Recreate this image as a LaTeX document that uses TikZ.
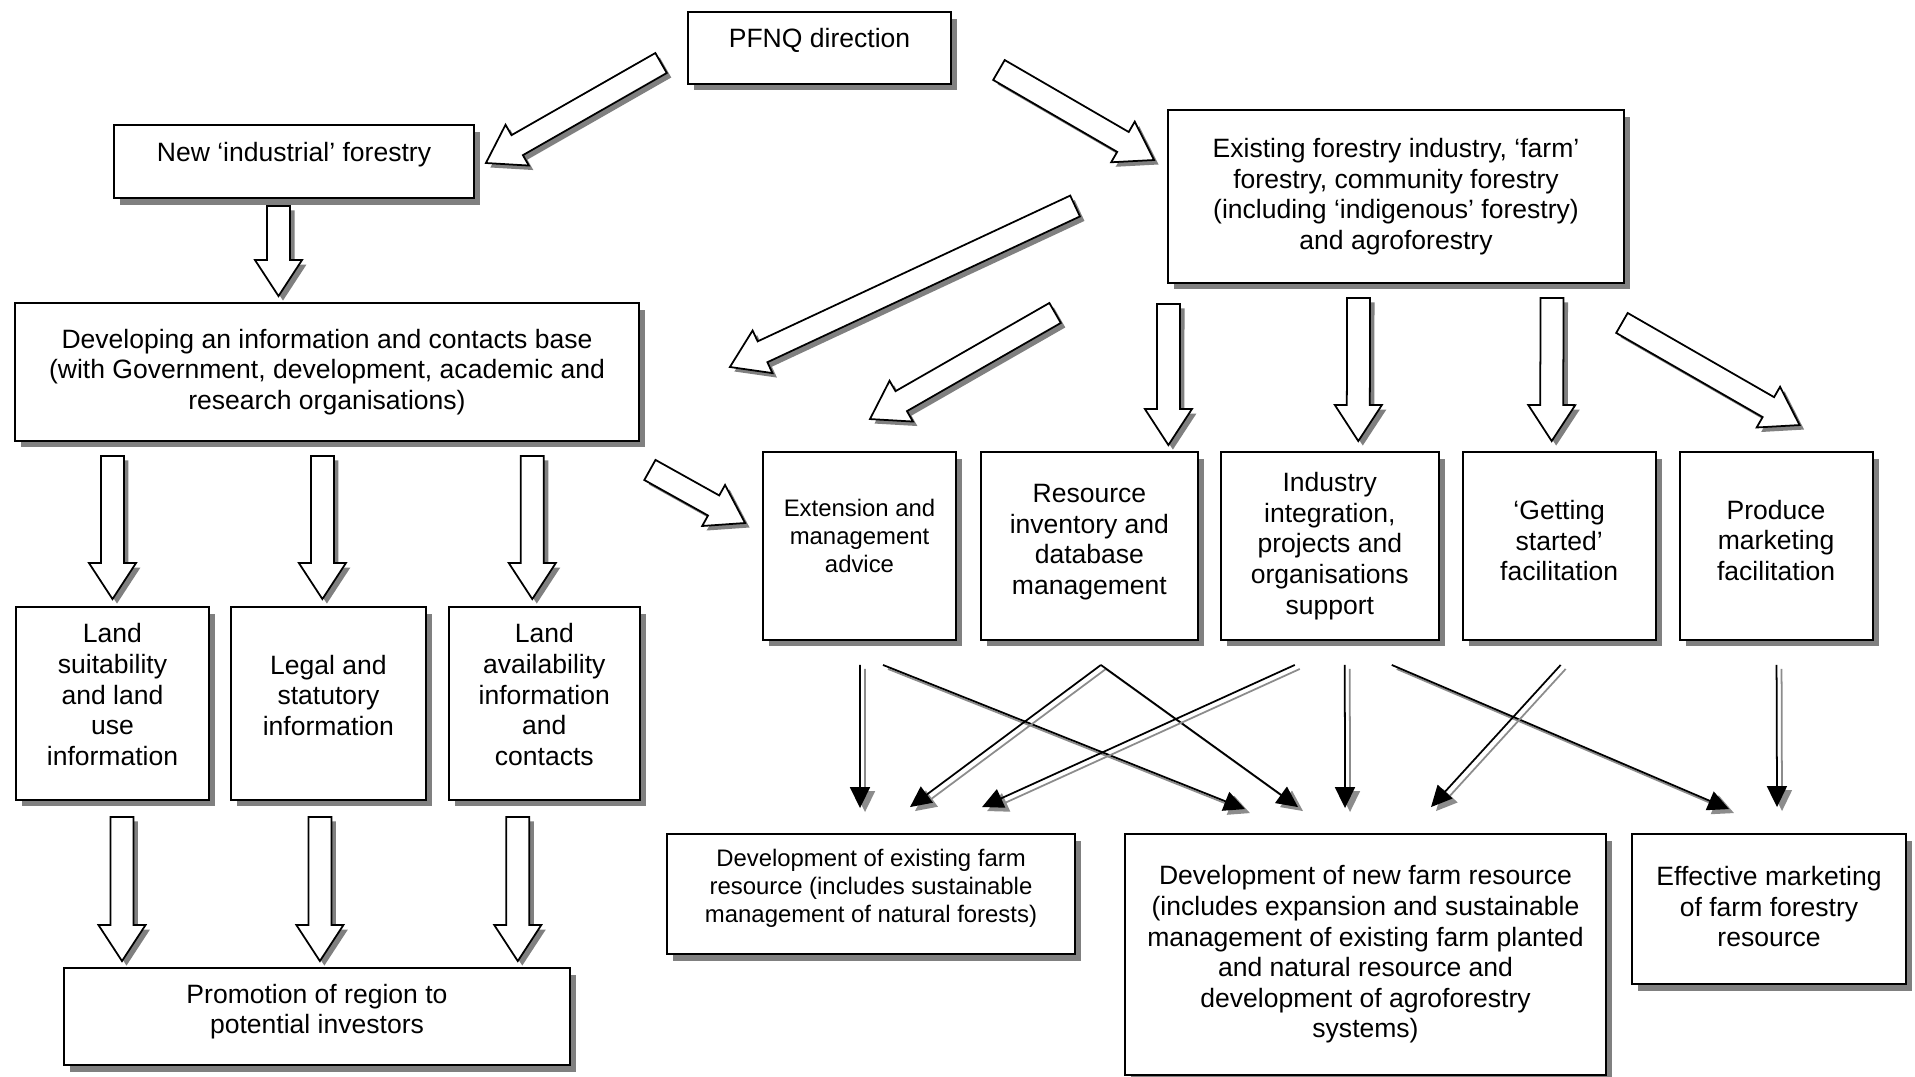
\documentclass[tikz,border=0pt]{standalone}
\usepackage{fontspec}
\setmainfont{Liberation Sans}
\usetikzlibrary{positioning, calc, arrows.meta, shadows}

% hollow block arrow from tail #1 to tip #2
\newcommand{\fatarrow}[2]{%
  \coordinate (fa-t) at #1;
  \coordinate (fa-h) at #2;
  \coordinate (fa-b) at ($(fa-h)!0.72cm!(fa-t)$);
  \draw[fat] ($(fa-t)!0.23cm!90:(fa-h)$) -- ($(fa-b)!0.23cm!-90:(fa-t)$)
    -- ($(fa-b)!0.47cm!-90:(fa-t)$) -- (fa-h) -- ($(fa-b)!0.47cm!90:(fa-t)$)
    -- ($(fa-b)!0.23cm!90:(fa-t)$) -- ($(fa-t)!0.23cm!-90:(fa-h)$) -- cycle;
}
% thin arrow with its grey shadow
\newcommand{\flowarrow}[2]{%
  \coordinate (fl-a) at #1;
  \coordinate (fl-b) at #2;
  \draw[link, draw=black!45] ($(fl-a)+(5,4)$) -- ($(fl-b)+(5,4)$);
  \draw[link] (fl-a) -- (fl-b);
}

\begin{document}
\begin{tikzpicture}[
    x=0.02cm, y=-0.02cm,
    node distance=0.44cm,
    box/.style={
        draw, rectangle, fill=white, align=center, line width=1.1pt,
        inner sep=3pt, font=\fontsize{15.1pt}{17.4pt}\selectfont,
        drop shadow={shadow xshift=0.12cm, shadow yshift=-0.13cm, fill=black!50, opacity=1}
    },
    smallbox/.style={box, font=\fontsize{13.6pt}{15.9pt}\selectfont},
    fat/.style={draw, fill=white, line width=1pt, line join=miter,
        drop shadow={shadow xshift=0.09cm, shadow yshift=-0.09cm, fill=black!50, opacity=1}},
    link/.style={-{Triangle[length=0.42cm, width=0.4cm]}, line width=1pt},
]
\useasboundingbox (0,0) rectangle (1915,1076);

% left branch
\node[box, minimum width=5.26cm, minimum height=1.44cm, text depth=0.4cm] (pfnq) at (819.5,48) {PFNQ direction};
\node[box, minimum width=7.2cm, minimum height=1.46cm, text depth=0.38cm] (newind) at (294,161.5) {New ‘industrial’ forestry};
\node[box, minimum width=12.48cm, minimum height=2.76cm] (devbase) at (327,372) {Developing an information and contacts base\\(with Government, development, academic and\\research organisations)};
\node[box, minimum width=3.86cm, minimum height=3.86cm, text depth=0.36cm] (landsuit) at (112.5,703.5) {Land\\suitability\\and land\\use\\information};
\node[box, minimum width=3.9cm, minimum height=3.86cm, text depth=0.34cm, right=0.40cm of landsuit] (legal) {Legal and\\statutory\\information};
\node[box, minimum width=3.82cm, minimum height=3.86cm, text depth=0.36cm, right=0.42cm of legal] (landavail) {Land\\availability\\information\\and\\contacts};
\node[box, minimum width=10.12cm, minimum height=1.94cm, text depth=0.31cm] (promo) at (317,1016.5) {Promotion of region to\\potential investors};

% right branch
\node[box, minimum width=9.12cm, minimum height=3.46cm] (exist) at (1396,196.5) {Existing forestry industry, ‘farm’\\forestry, community forestry\\(including ‘indigenous’ forestry)\\and agroforestry};
\node[smallbox, minimum width=3.86cm, minimum height=3.76cm, text depth=0.4cm] (ext) at (859.5,546) {Extension and\\management\\advice};
\node[box, minimum width=4.34cm, minimum height=3.76cm, text depth=0.26cm, right=0.46cm of ext] (resinv) {Resource\\inventory and\\database\\management};
\node[box, minimum width=4.36cm, minimum height=3.76cm, right=0.42cm of resinv] (indint) {Industry\\integration,\\projects and\\organisations\\support};
\node[box, minimum width=3.86cm, minimum height=3.76cm, text depth=0.22cm, right=of indint] (getst) {‘Getting\\started’\\facilitation};
\node[box, minimum width=3.86cm, minimum height=3.76cm, text depth=0.24cm, right=of getst] (prodmk) {Produce\\marketing\\facilitation};

% outcomes
\node[smallbox, minimum width=8.16cm, minimum height=2.4cm, text depth=0.32cm] (devexist) at (871,894) {Development of existing farm\\resource (includes sustainable\\management of natural forests)};
\node[box, minimum width=9.62cm, minimum height=4.82cm] (devnew) at (1365.5,954.5) {Development of new farm resource\\(includes expansion and sustainable\\management of existing farm planted\\and natural resource and\\development of agroforestry\\systems)};
\node[box, minimum width=5.48cm, minimum height=3cm, text depth=0.1cm] (effmk) at (1769,909) {Effective marketing\\of farm forestry\\resource};

% block arrows
\fatarrow{($(pfnq.west)+(-26,15)$)}{($(newind.east)+(11,1.5)$)}
\fatarrow{($(pfnq.east)+(47,22)$)}{($(exist.west)+(-13,-36.5)$)}
\fatarrow{($(newind.south)+(-15.5,7)$)}{($(devbase.north)+(-48.5,-6)$)}
\fatarrow{($(exist.west)+(-92,9.5)$)}{($(devbase.east)+(90,-5)$)}
\fatarrow{($(exist.south west)+(-112,29)$)}{($(ext.north)+(10.5,-32)$)}
\fatarrow{($(exist.south)+(-227.5,20)$)}{($(resinv.north)+(79,-6)$)}
\fatarrow{($(exist.south)+(-37.5,14)$)}{($(indint.north)+(28.5,-10)$)}
\fatarrow{($(exist.south)+(156,14)$)}{($(getst.north)+(-7.5,-10)$)}
\fatarrow{($(exist.south east)+(-3,39)$)}{($(prodmk.north)+(23.5,-26)$)}
\fatarrow{($(devbase.south east)+(10,28)$)}{($(ext.west)+(-17,-23)$)}

\fatarrow{($(devbase.south -| landsuit.north)+(0,14)$)}{($(landsuit.north)+(0,-7)$)}
\fatarrow{($(devbase.south -| legal.north)+(-6,14)$)}{($(legal.north)+(-6,-7)$)}
\fatarrow{($(devbase.south -| landavail.north)+(-12,14)$)}{($(landavail.north)+(-12,-7)$)}
\fatarrow{($(landsuit.south)+(9.5,16)$)}{($(promo.north -| landsuit.south)+(9.5,-6)$)}
\fatarrow{($(legal.south)+(-8.5,16)$)}{($(promo.north -| legal.south)+(-8.5,-6)$)}
\fatarrow{($(landavail.south)+(-26.5,16)$)}{($(promo.north -| landavail.south)+(-26.5,-6)$)}

% thin arrows to outcomes
\flowarrow{($(ext.south)+(0.5,24)$)}{($(devexist.north)+(-11,-25)$)}
\flowarrow{($(ext.south)+(23.5,24)$)}{($(devnew.north)+(-120.5,-24)$)}
\flowarrow{($(resinv.south)+(11.5,24)$)}{($(devexist.north)+(39,-26)$)}
\flowarrow{($(resinv.south)+(11.5,24)$)}{($(devnew.north)+(-67.5,-26)$)}
\flowarrow{($(indint.south)+(-35,24)$)}{($(devexist.north)+(111,-26)$)}
\flowarrow{($(indint.south)+(15,24)$)}{($(devnew.north)+(-20.5,-25)$)}
\flowarrow{($(indint.south)+(62,24)$)}{($(effmk.north)+(-40,-24)$)}
\flowarrow{($(getst.south)+(1.5,24)$)}{($(devnew.north)+(65.5,-26)$)}
\flowarrow{($(prodmk.south)+(0.5,24)$)}{($(effmk.north)+(8,-26)$)}

\end{tikzpicture}
\end{document}
